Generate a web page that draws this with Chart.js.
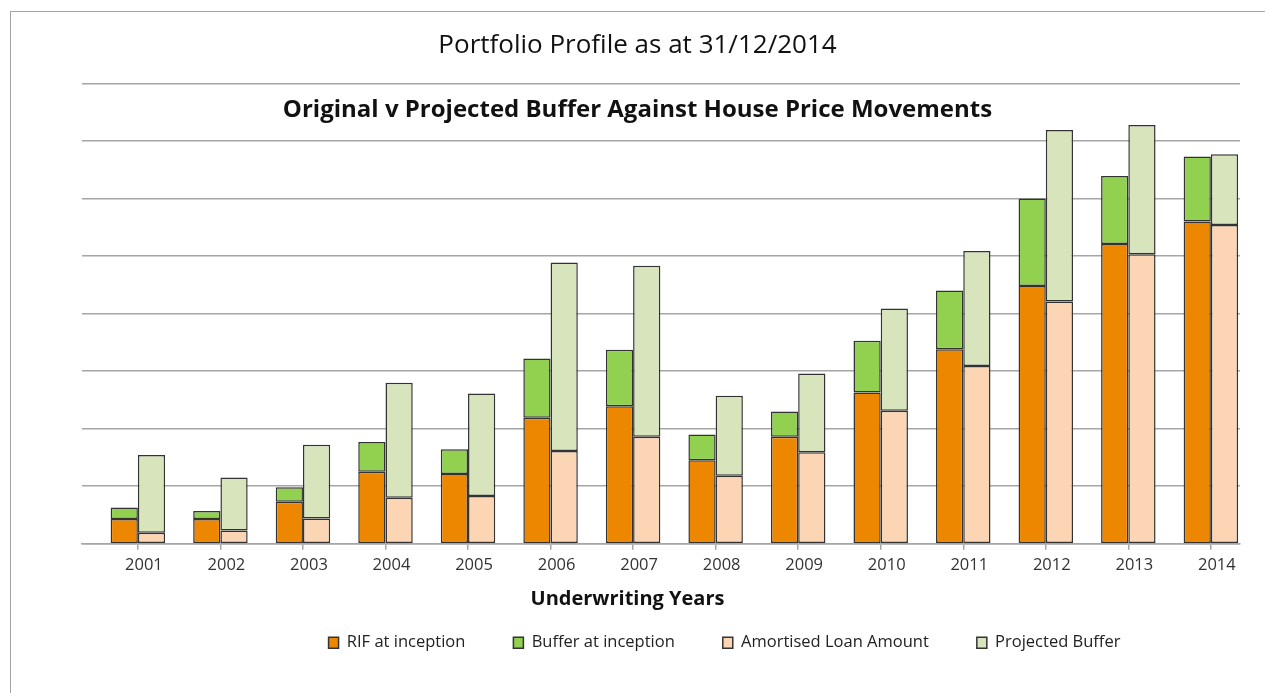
<!DOCTYPE html>
<html>
<head>
<meta charset="utf-8">
<title>Portfolio Profile</title>
<script src="https://cdn.jsdelivr.net/npm/chart.js@4.4.0/dist/chart.umd.min.js"></script>
<style>
  html, body { margin: 0; padding: 0; background: #fff; }
  #wrap { position: relative; width: 1265px; height: 693px; overflow: hidden; }
  #frame { position: absolute; left: 10px; top: 11px; width: 1300px; height: 700px;
           border-left: 1.5px solid #a3a3a3; border-top: 1.5px solid #a3a3a3; }
  canvas { position: absolute; left: 0; top: 0; }
</style>
</head>
<body>
<div id="wrap">
  <div id="frame"></div>
  <canvas id="barchart" width="1265" height="693"></canvas>
</div>
<script>
// Chart data (units = one gridline step x 100)
const years = [2001, 2002, 2003, 2004, 2005, 2006, 2007, 2008, 2009, 2010, 2011, 2012, 2013, 2014];
const rifAtInception = [43, 43, 73, 125, 121, 219, 239, 145, 186, 263, 338, 448, 521, 560];
const bufferAtInception = [20, 14, 25, 52, 43, 103, 98, 45, 44, 90, 102, 152, 118, 113];
const amortisedLoan = [19, 23, 44, 80, 83, 161, 186, 118, 159, 231, 309, 421, 503, 554];
const projectedBuffer = [135, 92, 128, 200, 178, 328, 297, 139, 137, 178, 200, 298, 225, 123];

const chartTitle = 'Portfolio Profile as at 31/12/2014';
const chartSubtitle = 'Original v Projected Buffer Against House Price Movements';
const xTitle = 'Underwriting Years';

const FONT = '"Open Sans", Lato, sans-serif';
const GRID = '#a6a6a6';
const EDGE = '#333333';

// subtitle sits inside the plot area, axis title sits a bit left of the plot centre
const extraText = {
  id: 'extraText',
  afterDraw(chart) {
    const { ctx, chartArea, titleBlock, scales } = chart;
    const cx = (titleBlock.left + titleBlock.right) / 2;
    ctx.save();
    ctx.fillStyle = '#111';
    ctx.textAlign = 'center';
    ctx.textBaseline = 'middle';
    ctx.font = 'bold 24px ' + FONT;
    ctx.fillText(chartSubtitle, cx, chartArea.top + 27);
    ctx.font = 'bold 20px ' + FONT;
    ctx.fillText(xTitle, cx - 10, scales.x.bottom + 15);
    ctx.restore();
  }
};

// the legend row sits right of centre in the original
const legendShift = {
  id: 'legendShift',
  afterLayout(chart) {
    chart.legend.left += 87;
    chart.legend.right += 87;
    chart.legend.top += 2;
    chart.legend.bottom += 2;
  }
};

const makeSet = (label, values, color, stack) => ({
  label: label,
  data: values,
  stack: stack,
  backgroundColor: color,
  borderColor: EDGE,
  borderWidth: 1.5,
  borderSkipped: false,
  categoryPercentage: 0.66,
  barPercentage: 1
});

new Chart(document.getElementById('barchart'), {
  type: 'bar',
  data: {
    labels: years,
    datasets: [
      makeSet('RIF at inception', rifAtInception, '#ee8700', 'original'),
      makeSet('Buffer at inception', bufferAtInception, '#92d050', 'original'),
      makeSet('Amortised Loan Amount', amortisedLoan, '#fcd5b4', 'projected'),
      makeSet('Projected Buffer', projectedBuffer, '#d8e4bc', 'projected')
    ]
  },
  plugins: [extraText, legendShift],
  options: {
    responsive: false,
    animation: false,
    layout: { padding: { left: 10, right: 0, top: 0, bottom: 34 } },
    scales: {
      x: {
        type: 'linear',
        stacked: true,
        offset: false,
        min: 2000.323,
        max: 2014.353,
        grid: { display: true, drawOnChartArea: false, drawTicks: true, tickLength: 6, color: GRID, lineWidth: 1.5, offset: false },
        border: { display: true, color: GRID, width: 1.5 },
        ticks: {
          stepSize: 1,
          includeBounds: false,
          autoSkip: false,
          maxRotation: 0,
          padding: 6,
          labelOffset: 6,
          color: '#333',
          font: { family: FONT, size: 16.5 },
          callback: v => String(v)
        },
        title: { display: false },
        afterFit: s => { s.height += 3; }
      },
      y: {
        stacked: true,
        min: 0,
        max: 800,
        grid: { color: GRID, lineWidth: 1.5, drawTicks: false },
        border: { display: false },
        ticks: { display: false, stepSize: 100 },
        afterFit: s => { s.width = 72; }
      },
      y2: {
        type: 'linear',
        position: 'right',
        grid: { display: false },
        border: { display: false },
        ticks: { display: false },
        afterFit: s => { s.width = 25; }
      }
    },
    plugins: {
      title: {
        display: true,
        text: chartTitle,
        color: '#111',
        font: { family: FONT, size: 26, weight: 'normal' },
        padding: { top: 30.4, bottom: 21.9 }
      },
      legend: {
        position: 'bottom',
        labels: {
          boxWidth: 10,
          boxHeight: 11,
          padding: 48,
          color: '#222',
          font: { family: FONT, size: 16.5 }
        }
      },
      tooltip: { enabled: false }
    }
  }
});
</script>
</body>
</html>
